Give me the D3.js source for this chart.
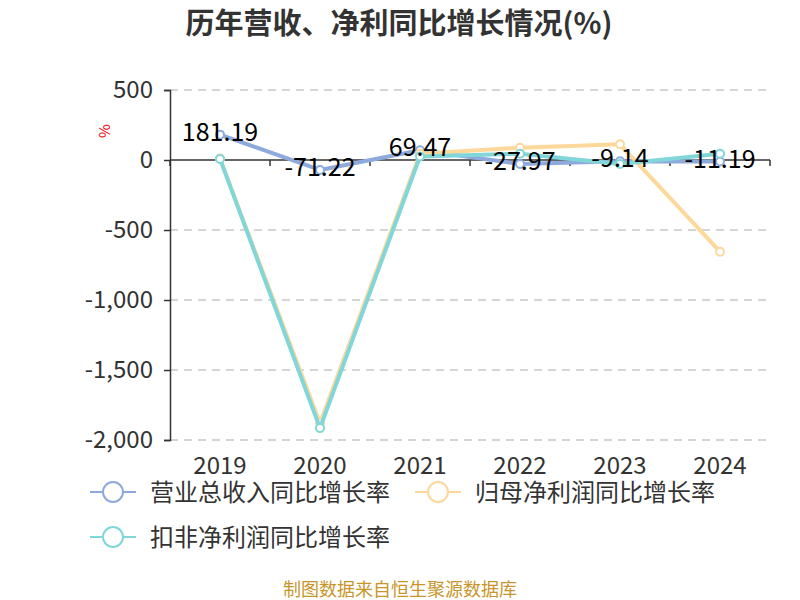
<!DOCTYPE html>
<html><head><meta charset="utf-8">
<script src="https://cdn.jsdelivr.net/npm/d3@7/dist/d3.min.js"></script>
<style>body{margin:0;background:#fff;}svg{display:block;}</style>
</head><body>
<svg id="c" width="800" height="600"></svg>
<script>
const years = ["2019","2020","2021","2022","2023","2024"];
const revenueGrowth = [181.19, -71.22, 69.47, -27.97, -9.14, -11.19];
const netProfitGrowth = [10, -1880, 45, 88, 112, -655];
const deductedProfitGrowth = [8, -1915, 25, 45, -28, 45];
const yTicks = [500, 0, -500, -1000, -1500, -2000];
const seriesNames = ["营业总收入同比增长率", "归母净利润同比增长率", "扣非净利润同比增长率"];

const colors = ["#8eaadc", "#fdd89b", "#80d6d8"];
const font = "'Noto Sans CJK SC', 'Noto Sans', sans-serif";
const svg = d3.select("#c");
const L = 170, R = 770, T = 90, B = 440;

const x = d3.scaleBand().domain(years).range([L, R]);
const y = d3.scaleLinear().domain([-2000, 500]).range([B, T]);
const fmt = d => d3.format(",")(d).replace("\u2212", "-");

// title
svg.append("text").attr("x", 399).attr("y", 34).attr("text-anchor", "middle")
  .attr("font-family", font).attr("font-size", 29).attr("font-weight", "bold").attr("fill", "#333")
  .text("历年营收、净利同比增长情况(%)");

// grid
svg.append("g").selectAll("line").data(yTicks.filter(d => d !== 0)).join("line")
  .attr("x1", L).attr("x2", R).attr("y1", d => y(d)).attr("y2", d => y(d))
  .attr("stroke", "#c8c8c8").attr("stroke-dasharray", "8,6").attr("stroke-width", 1.5);

// y axis
const yAxis = d3.axisLeft(y).tickValues(yTicks).tickSize(6).tickPadding(11).tickFormat(fmt);
const gy = svg.append("g").attr("transform", `translate(${L},0)`).call(yAxis);
gy.select(".domain").attr("stroke", "#333").attr("stroke-width", 1.5);
gy.selectAll(".tick line").attr("stroke", "#333").attr("stroke-width", 1.5);
gy.selectAll(".tick text").attr("font-family", font).attr("font-size", 24).attr("fill", "#333");

// x axis line at zero
const gx = svg.append("g").attr("transform", `translate(0,${y(0)})`);
gx.append("line").attr("x1", L).attr("x2", R).attr("stroke", "#333").attr("stroke-width", 1.5);
const bounds = years.map(d => x(d)).concat([R]);
gx.selectAll("line.t").data(bounds).join("line").attr("class", "t")
  .attr("x1", d => d).attr("x2", d => d).attr("y1", 0).attr("y2", 6)
  .attr("stroke", "#333").attr("stroke-width", 1.5);
// category labels at bottom
svg.append("g").selectAll("text").data(years).join("text")
  .attr("x", d => x(d) + x.bandwidth() / 2).attr("y", 474).attr("text-anchor", "middle")
  .attr("font-family", font).attr("font-size", 24).attr("fill", "#333").text(d => d);

// y name
svg.append("text").attr("transform", `translate(110,131) rotate(-90)`).attr("text-anchor", "middle")
  .attr("font-family", font).attr("font-size", 15).attr("fill", "#e00").text("%");

const cx = (d, i) => x(years[i]) + x.bandwidth() / 2;
const line = d3.line().x((d, i) => cx(d, i)).y(d => y(d));
const allSeries = [revenueGrowth, netProfitGrowth, deductedProfitGrowth];
allSeries.forEach((s, k) => {
  const g = svg.append("g");
  g.append("path").datum(s).attr("d", line).attr("fill", "none")
    .attr("stroke", colors[k]).attr("stroke-width", 4).attr("stroke-linejoin", "round");
  g.selectAll("circle").data(s).join("circle")
    .attr("cx", cx).attr("cy", d => y(d)).attr("r", 4)
    .attr("fill", "#fff").attr("stroke", colors[k]).attr("stroke-width", 2);
});

// labels for revenue
svg.append("g").selectAll("text").data(revenueGrowth).join("text")
  .attr("x", cx).attr("y", d => y(d) + 6).attr("text-anchor", "middle")
  .attr("font-family", font).attr("font-size", 25).attr("fill", "#000")
  .text(d => d.toFixed(2));

// legend
const legendPos = [[90, 492], [415, 492], [90, 537]];
seriesNames.forEach((n, k) => {
  const [lx, ly] = legendPos[k];
  const g = svg.append("g");
  g.append("line").attr("x1", lx).attr("x2", lx + 46).attr("y1", ly).attr("y2", ly)
    .attr("stroke", colors[k]).attr("stroke-width", 2);
  g.append("circle").attr("cx", lx + 23).attr("cy", ly).attr("r", 10)
    .attr("fill", "#fff").attr("stroke", colors[k]).attr("stroke-width", 2);
  g.append("text").attr("x", lx + 60).attr("y", ly + 9).attr("font-family", font)
    .attr("font-size", 24).attr("fill", "#333").text(n);
});

// footer
svg.append("text").attr("x", 400).attr("y", 596).attr("text-anchor", "middle")
  .attr("font-family", font).attr("font-size", 18).attr("fill", "#c8952b")
  .text("制图数据来自恒生聚源数据库");
</script>
</body></html>
